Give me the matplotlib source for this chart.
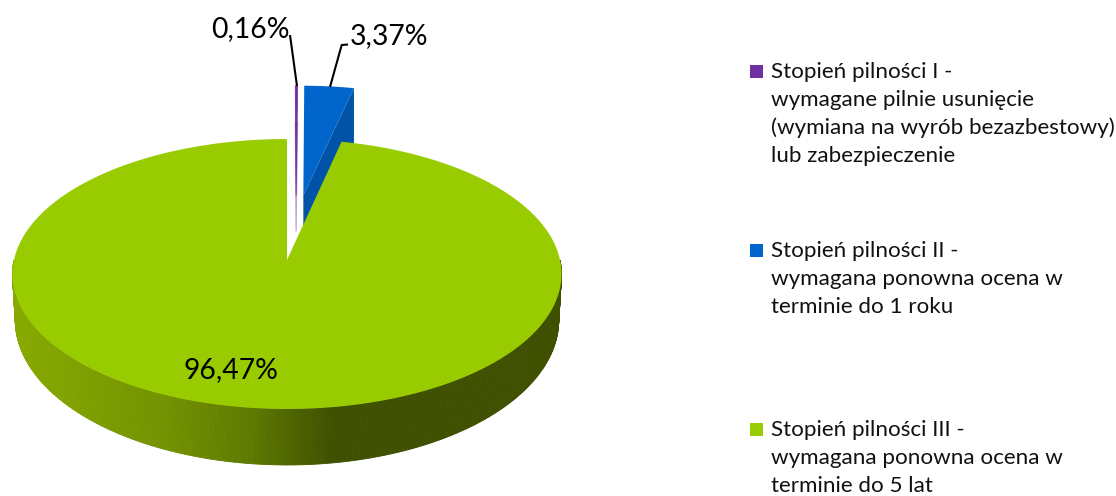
import numpy as np
import matplotlib
matplotlib.use("Agg")
import matplotlib.pyplot as plt
from matplotlib.patches import Polygon, Rectangle
from matplotlib.collections import PolyCollection

plt.rcParams['font.family'] = ['Lato', 'DejaVu Sans']

values = [0.16, 3.37, 96.47]
value_labels = ['0,16%', '3,37%', '96,47%']
colors = ['#7030A0', '#0066CC', '#99CC00']
legend_lines = [
    ['Stopień pilności I -', 'wymagane pilnie usunięcie',
     '(wymiana na wyrób bezazbestowy)', 'lub zabezpieczenie'],
    ['Stopień pilności II -', 'wymagana ponowna ocena w', 'terminie do 1 roku'],
    ['Stopień pilności III -', 'wymagana ponowna ocena w', 'terminie do 5 lat'],
]

W, H = 1116, 496
fig = plt.figure(figsize=(W / 100, H / 100), dpi=100)
ax = fig.add_axes([0, 0, 1, 1])
ax.set_xlim(0, W)
ax.set_ylim(H, 0)
ax.axis('off')

# perspective projection of the pie disc
CX, CY, A, B, K = 287.0, 260.0, 133.5, 273.0, 0.1037


def project(u, v):
    w = 1 + K * v
    return CX + B * u / w, CY - A * v / w


def depth(v):
    return 45.0 / (1 + K * v) ** 2


edges = np.concatenate([[0], np.cumsum(values)]) / sum(values) * 2 * np.pi
offsets = [(0.035, 0.51), (0.063, 0.51), (0.0, 0.0)]


def slice_pts(i, n=400):
    th = np.linspace(edges[i], edges[i + 1], max(4, int(n * values[i] / 100) + 4))
    ou, ov = offsets[i]
    u = np.concatenate([[ou], ou + np.sin(th)])
    v = np.concatenate([[ov], ov + np.cos(th)])
    return u, v


# exploded slices: walls first, then the top faces; the green disc covers their feet
pu, pv = slice_pts(0)
x, y = project(pu, pv)
ax.add_patch(Polygon(np.c_[x, y + 36], closed=True, fc='#B9A0D0', ec='#B9A0D0', lw=0.8))
ax.add_patch(Polygon(np.c_[x, y], closed=True, fc=colors[0], ec=colors[0], lw=0.6))

bu, bv = slice_pts(1)
x, y = project(bu, bv)
wall = np.array([[x[0], y[0]], [x[-1], y[-1]], [x[-1], y[-1] + 58], [x[0], y[0] + 58]])
ax.add_patch(Polygon(wall, closed=True, fc='#0053A6', ec='none'))
ax.add_patch(Polygon(np.c_[x, y], closed=True, fc=colors[1], ec='none'))

# green slice side wall
wall_x = [13, 167, 250, 333, 561]
wall_r = [0x88, 0x73, 0x5F, 0x3F, 0x3F]
wall_g = [0xAA, 0x92, 0x7A, 0x50, 0x50]
th = np.linspace(np.pi / 2, 3 * np.pi / 2, 361)
u, v = np.sin(th), np.cos(th)
xt, yt = project(u, v)
yb = yt + depth(v)
xb = CX + (xt - CX) * 0.99
quads, qcols = [], []
for j in range(len(th) - 1):
    quads.append([(xt[j], yt[j]), (xt[j + 1], yt[j + 1]), (xb[j + 1], yb[j + 1]), (xb[j], yb[j])])
    xm = xt[j]
    qcols.append((np.interp(xm, wall_x, wall_r) / 255, np.interp(xm, wall_x, wall_g) / 255, 0))
ax.add_collection(PolyCollection(quads, facecolors=qcols, edgecolors=qcols, linewidths=0.6))

gu, gv = slice_pts(2, 720)
x, y = project(gu, gv)
ax.add_patch(Polygon(np.c_[x, y], closed=True, fc=colors[2], ec='none'))

# data labels and leader lines
ax.plot([290, 297], [35, 86], color='black', lw=1.5, solid_capstyle='butt')
ax.plot([348, 341.7, 330], [44.5, 45, 87], color='black', lw=1.5, solid_capstyle='butt')
FS = 20.4
ax.text(250, 29, value_labels[0], fontsize=FS, ha='center', va='center', color='black')
ax.text(389, 36, value_labels[1], fontsize=FS, ha='center', va='center', color='black')
ax.text(231, 370, value_labels[2], fontsize=FS, ha='center', va='center', color='black')

# legend
LFS = 16.1
for group, col, y0 in zip(legend_lines, colors, [71, 250, 429]):
    ax.add_patch(Rectangle((750, y0 - 6), 13, 13, fc=col, ec='none'))
    for k, line in enumerate(group):
        ax.text(771, y0 + 1 + k * 28, line, fontsize=LFS, ha='left', va='center', color='#111111')

fig.savefig('out.png', dpi=100, facecolor='white')
